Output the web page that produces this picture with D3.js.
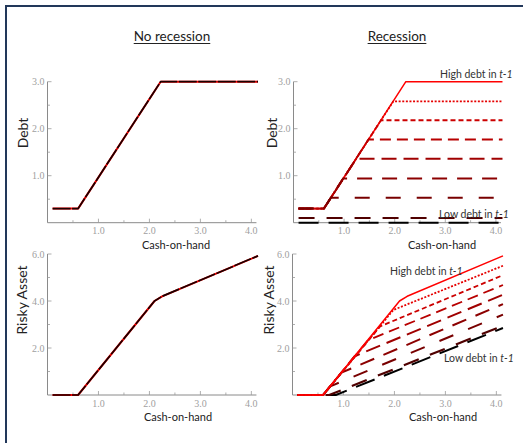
<!DOCTYPE html>
<html>
<head>
<meta charset="utf-8">
<script src="https://cdn.jsdelivr.net/npm/d3@7"></script>
<style>
  body { margin: 0; background: #fff; }
  svg { display: block; }
</style>
</head>
<body>
<div id="wrapper"></div>
<script>
// tick labels
const cashTicks = [1.0, 2.0, 3.0, 4.0]
const debtTicks = [1.0, 2.0, 3.0]
const riskyTicks = [2.0, 4.0, 6.0]

// no recession: every t-1 debt level gives the same policy
const noRecDebt = [[0.1, 0.3], [0.6, 0.3], [2.22, 3.0], [4.13, 3.0]]
const noRecRisky = [[0.1, 0], [0.6, 0], [2.1, 4.0], [2.25, 4.2], [4.13, 5.92]]

// recession: one line per debt level in t-1, high -> low
const recDebt = [
    [[0.1, 0.3], [0.6, 0.3], [2.22, 3.0], [4.13, 3.0]],
    [[0.1, 0.3], [0.6, 0.3], [1.97, 2.58], [4.13, 2.58]],
    [[0.1, 0.3], [0.6, 0.3], [1.73, 2.18], [4.13, 2.18]],
    [[0.1, 0.3], [0.6, 0.3], [1.48, 1.77], [4.13, 1.77]],
    [[0.1, 0.3], [0.6, 0.3], [1.24, 1.36], [4.13, 1.36]],
    [[0.1, 0.3], [0.6, 0.3], [0.98, 0.94], [4.13, 0.94]],
    [[0.1, 0.3], [0.6, 0.3], [0.74, 0.53], [4.13, 0.53]],
    [[0.1, 0.1], [4.13, 0.1]],
    [[0.1, 0.0], [4.13, 0.0]]
]
const recRisky = [
    [[0.1, 0], [0.6, 0], [2.1, 4.0], [2.25, 4.2], [4.13, 5.92]],
    [[0.1, 0], [0.6, 0], [1.98, 3.62], [4.13, 5.5]],
    [[0.1, 0], [0.6, 0], [1.72, 2.92], [4.13, 5.1]],
    [[0.1, 0], [0.6, 0], [1.48, 2.33], [4.13, 4.68]],
    [[0.1, 0], [0.6, 0], [1.22, 1.65], [4.13, 4.27]],
    [[0.1, 0], [0.6, 0], [0.96, 0.95], [4.13, 3.87]],
    [[0.1, 0], [0.6, 0], [0.74, 0.37], [4.13, 3.42]],
    [[0.1, 0], [0.72, 0], [4.13, 2.95]],
    [[0.1, 0], [0.85, 0], [4.13, 2.85]]
]

const lineColors = ['#ff0000', '#e60000', '#cc0000', '#b80000', '#a00000', '#8c0000', '#780000', '#500000', '#000000']
const lineDashes = [null, '2,1.6', '5,3', '11,6', '15,7', '15,10', '15,16', '16,12', '20,10']
const lineWidths = [1.5, 1.8, 1.8, 1.8, 2, 2, 2, 2.2, 2]

const dimensions = { width: 523, height: 443 }

const wrapper = d3.select('#wrapper')
    .append('svg')
    .attr('width', dimensions.width)
    .attr('height', dimensions.height)

// frame
wrapper.append('path')
    .attr('d', 'M6,443 L6,6 L523,6')
    .attr('fill', 'none')
    .attr('stroke', '#22385a')
    .attr('stroke-width', 2)

const sans = 'Lato, "Open Sans", sans-serif'
const serif = '"Liberation Serif", "DejaVu Serif", serif'

const panels = [
    { x: [47.5, 259], y: [222.7, 81.7], yMax: 3, yTicks: debtTicks, yMinor: 0.5, label: 'Debt', lx: 23, ly: 133, cx: 176, cy: 248.5 },
    { x: [293.5, 503.5], y: [222.7, 81.7], yMax: 3, yTicks: debtTicks, yMinor: 0.5, label: 'Debt', lx: 272, ly: 133, cx: 442, cy: 248.5 },
    { x: [47.5, 259], y: [395, 254], yMax: 6, yTicks: riskyTicks, yMinor: 1, label: 'Risky Asset', lx: 22, ly: 300, cx: 178, cy: 421 },
    { x: [292.5, 504], y: [395, 254], yMax: 6, yTicks: riskyTicks, yMinor: 1, label: 'Risky Asset', lx: 269, ly: 300, cx: 443, cy: 421 }
]

panels.forEach(p => {
    p.xScale = d3.scaleLinear().domain([0, 4.15]).range(p.x)
    p.yScale = d3.scaleLinear().domain([0, p.yMax]).range(p.y)
    const g = wrapper.append('g')
    const xs = p.xScale, ys = p.yScale

    // axis lines
    g.append('line')
        .attr('x1', xs(0)).attr('x2', xs(4.1))
        .attr('y1', ys(0)).attr('y2', ys(0))
        .attr('stroke', '#8a8a8a').attr('stroke-width', 1)
    g.append('line')
        .attr('x1', xs(0)).attr('x2', xs(0))
        .attr('y1', ys(0)).attr('y2', ys(p.yMax))
        .attr('stroke', '#8a8a8a').attr('stroke-width', 1)

    // x ticks
    const xMinor = d3.range(0.5, 4.1, 0.5)
    g.selectAll('.xt').data(xMinor).join('line')
        .attr('x1', d => xs(d)).attr('x2', d => xs(d))
        .attr('y1', ys(0))
        .attr('y2', d => ys(0) - (Number.isInteger(d) ? 4 : 2.5))
        .attr('stroke', '#9a9a9a').attr('stroke-width', 0.8)
    g.selectAll('.xl').data(cashTicks).join('text')
        .attr('x', d => xs(d)).attr('y', ys(0) + 11.5)
        .attr('text-anchor', 'middle')
        .style('font-family', serif).style('font-size', '10px').attr('fill', '#a0a0a0')
        .text(d => d.toFixed(1))

    // y ticks
    const yMinor = d3.range(p.yMinor, p.yMax + 0.01, p.yMinor)
    g.selectAll('.yt').data(yMinor).join('line')
        .attr('x1', xs(0))
        .attr('x2', d => xs(0) + (p.yTicks.includes(d) ? 4 : 2.5))
        .attr('y1', d => ys(d)).attr('y2', d => ys(d))
        .attr('stroke', '#9a9a9a').attr('stroke-width', 0.8)
    g.selectAll('.yl').data(p.yTicks).join('text')
        .attr('x', xs(0) - 3).attr('y', d => ys(d) + 3.5)
        .attr('text-anchor', 'end')
        .style('font-family', serif).style('font-size', '10px').attr('fill', '#a0a0a0')
        .text(d => d.toFixed(1))

    // axis labels
    g.append('text')
        .attr('transform', `translate(${p.lx},${p.ly}) rotate(-90)`)
        .attr('text-anchor', 'middle').attr('dy', '0.35em')
        .style('font-family', sans).style('font-size', '14px').attr('fill', '#222')
        .text(p.label)
    g.append('text')
        .attr('x', p.cx).attr('y', p.cy)
        .attr('text-anchor', 'middle')
        .style('font-family', sans).style('font-size', '11px').attr('fill', '#222')
        .text('Cash-on-hand')
})

const drawLine = (p, data, color, dash, w) => {
    const line = d3.line()
        .x(d => p.xScale(d[0]))
        .y(d => p.yScale(d[1]))
    wrapper.append('path')
        .datum(data)
        .attr('d', line)
        .attr('fill', 'none')
        .attr('stroke', color)
        .attr('stroke-width', w)
        .attr('stroke-dasharray', dash)
        .attr('stroke-linejoin', 'round')
}

// no recession: red under black
drawLine(panels[0], noRecDebt, '#ff0000', null, 2)
drawLine(panels[0], noRecDebt, '#1a0000', '18,1.5', 1.7)
drawLine(panels[2], noRecRisky, '#ff0000', null, 2)
drawLine(panels[2], noRecRisky, '#1a0000', '18,1.5', 1.7)

// recession debt: red first, darker ones on top of the shared curve
for (let i = 0; i < recDebt.length; i++) {
    drawLine(panels[1], recDebt[i], lineColors[i], lineDashes[i], lineWidths[i])
}
// recession risky asset: darkest first so the red stays on top
for (let i = recRisky.length - 1; i >= 0; i--) {
    drawLine(panels[3], recRisky[i], lineColors[i], lineDashes[i], lineWidths[i])
}

// annotations
const note = (x, y, label) => {
    const t = wrapper.append('text')
        .attr('x', x).attr('y', y)
        .style('font-family', sans).style('font-size', '10.5px').attr('fill', '#333')
    t.append('tspan').text(label + ' debt in ')
    t.append('tspan').style('font-style', 'italic').text('t-1')
}
note(440, 77.5, 'High')
note(439, 218, 'Low')
note(390, 275, 'High')
note(444, 362, 'Low')

// titles
const titles = [['No recession', 172], ['Recession', 397]]
titles.forEach(([txt, cx]) => {
    const t = wrapper.append('text')
        .attr('x', cx).attr('y', 41)
        .attr('text-anchor', 'middle')
        .style('font-family', sans).style('font-size', '13.5px').attr('fill', '#222')
        .text(txt)
    const w = t.node().getComputedTextLength()
    wrapper.append('line')
        .attr('x1', cx - w / 2).attr('x2', cx + w / 2)
        .attr('y1', 43.5).attr('y2', 43.5)
        .attr('stroke', '#222').attr('stroke-width', 1)
})
</script>
</body>
</html>
